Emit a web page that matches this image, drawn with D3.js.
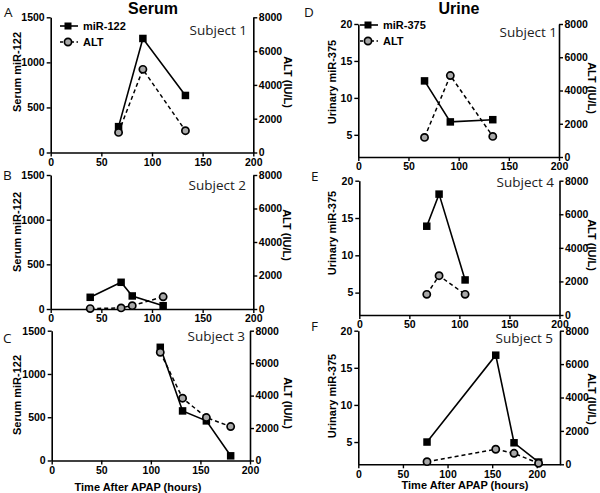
<!DOCTYPE html>
<html>
<head>
<meta charset="utf-8">
<script src="https://cdn.jsdelivr.net/npm/d3@7/dist/d3.min.js"></script>
<style>
  body { margin: 0; background: #fff; }
  svg { display: block; }
</style>
</head>
<body>
<svg id="chart" width="600" height="493"></svg>
<script>
// ---------- data ----------
const xTicks = [0, 50, 100, 150, 200];
const serumTicks = [0, 500, 1000, 1500];
const urineTicks = [5, 10, 15, 20];
const altTicks = [0, 2000, 4000, 6000, 8000];

const columnTitles = ["Serum", "Urine"];
const panelLetters = ["A", "B", "C", "D", "E", "F"];
const subjectLabels = ["Subject 1", "Subject 2", "Subject 3", "Subject 1", "Subject 4", "Subject 5"];
const legendSerum = ["miR-122", "ALT"];
const legendUrine = ["miR-375", "ALT"];
const serumYLabel = "Serum miR-122";
const urineYLabel = "Urinary miR-375";
const altLabel = "ALT (IU/L)";
const xLabel = "Time After APAP (hours)";

// Serum, subject 1
const timeA = [67, 91, 133];
const mirA = [287, 1265, 633];
const altA = [1190, 4920, 1290];
// Serum, subject 2
const timeB = [39, 69.5, 80.5, 111];
const mirB = [131, 299, 146, 37];
const altB = [25, 65, 200, 730];
// Serum, subject 3
const timeC = [109.5, 132, 156, 180.5];
const mirC = [1308, 573, 458, 54];
const altC = [6670, 3840, 2646, 2092];
// Urine, subject 1
const timeD = [66, 91.7, 134];
const mirD = [12.3, 6.75, 7.05];
const altD = [1180, 4900, 1240];
// Urine, subject 4
const timeE = [67.4, 79.7, 105.7];
const mirE = [13.9, 18.2, 6.7];
const altE = [1230, 2340, 1230];
// Urine, subject 5
const timeF = [77, 154, 174.5, 202];
const mirF = [5.0, 16.7, 4.9, 2.3];
const altF = [160, 900, 660, 60];

// ---------- layout ----------
const panels = [
  { letter: 0, subj: 0, time: timeA, mir: mirA, alt: altA, yDom: [0, 1500], yTicks: serumTicks, xDom: [0, 200],
    L: 50.7, R: 253.3, T: 17.3, B: 152.5, letterPos: [4, 17], subjPos: [247, 35],
    yLab: serumYLabel, yLabPos: [17, 72], altLabPos: [288, 82], legend: legendSerum, legPos: [60, 26], xTitle: null },
  { letter: 1, subj: 1, time: timeB, mir: mirB, alt: altB, yDom: [0, 1500], yTicks: serumTicks, xDom: [0, 200],
    L: 50.7, R: 253.3, T: 175, B: 309, letterPos: [3, 180], subjPos: [246, 190],
    yLab: serumYLabel, yLabPos: [17, 232], altLabPos: [287, 235], legend: null, xTitle: null },
  { letter: 2, subj: 2, time: timeC, mir: mirC, alt: altC, yDom: [0, 1500], yTicks: serumTicks, xDom: [0, 200],
    L: 51.7, R: 250, T: 330.7, B: 460.5, letterPos: [3, 343], subjPos: [245, 341],
    yLab: serumYLabel, yLabPos: [17, 395], altLabPos: [288, 403], legend: null, xTitle: [138, 491] },
  { letter: 3, subj: 3, time: timeD, mir: mirD, alt: altD, yDom: [2, 20], yTicks: urineTicks, xDom: [0, 200],
    L: 358.3, R: 559, T: 24, B: 157, letterPos: [304, 17], subjPos: [557, 37],
    yLab: urineYLabel, yLabPos: [332, 82], altLabPos: [592, 88], legend: legendUrine, legPos: [360, 25], xTitle: null },
  { letter: 4, subj: 4, time: timeE, mir: mirE, alt: altE, yDom: [2, 20], yTicks: urineTicks, xDom: [0, 200],
    L: 359.3, R: 559.5, T: 180.7, B: 315, letterPos: [311, 181], subjPos: [554, 187],
    yLab: urineYLabel, yLabPos: [332, 233], altLabPos: [592, 245], legend: null, xTitle: null },
  { letter: 5, subj: 5, time: timeF, mir: mirF, alt: altF, yDom: [2, 20], yTicks: urineTicks, xDom: [0, 226],
    L: 358.3, R: 560, T: 330.7, B: 464.3, letterPos: [311, 331], subjPos: [553, 343],
    yLab: urineYLabel, yLabPos: [332, 396], altLabPos: [592, 399], legend: null, xTitle: [465, 489] }
];

const svg = d3.select("#chart");
const AX_FONT = "'Liberation Sans', Arial, sans-serif";
const SOFT_FONT = "'Open Sans', 'Noto Sans', sans-serif";
const fmt = d3.format("d");

// column titles
svg.append("text").attr("x", 153).attr("y", 13.5).attr("text-anchor", "middle")
  .attr("font-family", AX_FONT).attr("font-weight", "bold").attr("font-size", 16).text(columnTitles[0]);
svg.append("text").attr("x", 459).attr("y", 13.5).attr("text-anchor", "middle")
  .attr("font-family", AX_FONT).attr("font-weight", "bold").attr("font-size", 16).text(columnTitles[1]);

function styleAxis(g) {
  g.select(".domain").attr("stroke", "#000").attr("stroke-width", 1.6);
  g.selectAll(".tick line").attr("stroke", "#000").attr("stroke-width", 1.4);
  g.selectAll(".tick text").attr("fill", "#000").attr("font-family", AX_FONT)
    .attr("font-weight", "bold").attr("font-size", 10.5);
}

function drawSquare(g, cx, cy, s) {
  g.append("rect").attr("x", cx - s / 2).attr("y", cy - s / 2).attr("width", s).attr("height", s).attr("fill", "#000");
}
function drawCircle(g, cx, cy, r) {
  g.append("circle").attr("cx", cx).attr("cy", cy).attr("r", r)
    .attr("fill", "#a8a8a8").attr("stroke", "#000").attr("stroke-width", 1.7);
}

panels.forEach(p => {
  const x = d3.scaleLinear().domain(p.xDom).range([p.L, p.R]);
  const y = d3.scaleLinear().domain(p.yDom).range([p.B, p.T]);
  const y2 = d3.scaleLinear().domain([0, 8000]).range([p.B, p.T]);

  svg.append("g").attr("transform", `translate(0,${p.B})`)
    .call(d3.axisBottom(x).tickValues(xTicks).tickFormat(fmt).tickSize(4).tickSizeOuter(0).tickPadding(2))
    .call(styleAxis);
  svg.append("g").attr("transform", `translate(${p.L},0)`)
    .call(d3.axisLeft(y).tickValues(p.yTicks).tickFormat(fmt).tickSize(4).tickSizeOuter(0).tickPadding(2))
    .call(styleAxis);
  svg.append("g").attr("transform", `translate(${p.R},0)`)
    .call(d3.axisRight(y2).tickValues(altTicks).tickFormat(fmt).tickSize(4).tickSizeOuter(0).tickPadding(1.5))
    .call(styleAxis);

  // lines
  const mirLine = d3.line().x((d, i) => x(p.time[i])).y(d => y(d));
  const altLine = d3.line().x((d, i) => x(p.time[i])).y(d => y2(d));
  svg.append("path").attr("d", altLine(p.alt)).attr("fill", "none").attr("stroke", "#000")
    .attr("stroke-width", 1.5).attr("stroke-dasharray", "4,3");
  svg.append("path").attr("d", mirLine(p.mir)).attr("fill", "none").attr("stroke", "#000")
    .attr("stroke-width", 1.6);
  const mk = svg.append("g");
  p.mir.forEach((v, i) => drawSquare(mk, x(p.time[i]), y(v), 7.5));
  p.alt.forEach((v, i) => drawCircle(mk, x(p.time[i]), y2(v), 3.6));

  // letter
  svg.append("text").attr("x", p.letterPos[0]).attr("y", p.letterPos[1])
    .attr("font-family", SOFT_FONT).attr("font-size", 13.5).attr("fill", "#111").text(panelLetters[p.letter]);
  // subject
  svg.append("text").attr("x", p.subjPos[0]).attr("y", p.subjPos[1]).attr("text-anchor", "end")
    .attr("font-family", SOFT_FONT).attr("font-size", 13.5).attr("fill", "#222").text(subjectLabels[p.subj]);
  // y label
  svg.append("text").attr("transform", `translate(${p.yLabPos[0]},${p.yLabPos[1]}) rotate(-90)`)
    .attr("text-anchor", "middle").attr("dy", "0.35em")
    .attr("font-family", AX_FONT).attr("font-weight", "bold").attr("font-size", 11).text(p.yLab);
  // ALT label
  svg.append("text").attr("transform", `translate(${p.altLabPos[0]},${p.altLabPos[1]}) rotate(90)`)
    .attr("text-anchor", "middle").attr("dy", "0.35em")
    .attr("font-family", AX_FONT).attr("font-weight", "bold").attr("font-size", 11).text(altLabel);
  // x title
  if (p.xTitle) {
    svg.append("text").attr("x", p.xTitle[0]).attr("y", p.xTitle[1]).attr("text-anchor", "middle")
      .attr("font-family", AX_FONT).attr("font-weight", "bold").attr("font-size", 11).text(xLabel);
  }
  // legend
  if (p.legend) {
    const lx = p.legPos[0], ly = p.legPos[1];
    const lg = svg.append("g");
    lg.append("line").attr("x1", lx).attr("x2", lx + 18).attr("y1", ly).attr("y2", ly)
      .attr("stroke", "#000").attr("stroke-width", 1.6);
    drawSquare(lg, lx + 8, ly, 7);
    lg.append("text").attr("x", lx + 23).attr("y", ly).attr("dy", "0.35em")
      .attr("font-family", AX_FONT).attr("font-weight", "bold").attr("font-size", 11).text(p.legend[0]);
    lg.append("line").attr("x1", lx).attr("x2", lx + 18).attr("y1", ly + 16).attr("y2", ly + 16)
      .attr("stroke", "#000").attr("stroke-width", 1.5).attr("stroke-dasharray", "3,2.5");
    drawCircle(lg, lx + 8, ly + 16, 3.6);
    lg.append("text").attr("x", lx + 23).attr("y", ly + 16).attr("dy", "0.35em")
      .attr("font-family", AX_FONT).attr("font-weight", "bold").attr("font-size", 11).text(p.legend[1]);
  }
});
</script>
</body>
</html>
